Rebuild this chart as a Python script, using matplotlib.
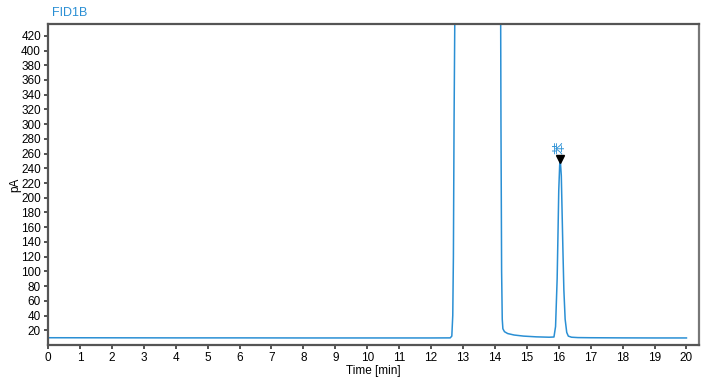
import matplotlib.pyplot as plt
import matplotlib.ticker as mticker

plt.rcParams['font.family'] = ['Liberation Sans', 'Noto Sans CJK SC', 'DejaVu Sans']

# FID1B signal (time in min, signal in pA)
time_min = [0.0, 2.0, 4.0, 6.0, 8.0, 10.0, 12.0, 12.6, 12.65, 12.68, 12.70, 12.72, 12.75, 12.78,
            14.17, 14.19, 14.21, 14.23, 14.25, 14.3, 14.4, 14.6, 14.9, 15.3, 15.7, 15.85,
            15.9, 15.95, 15.98, 16.0, 16.03, 16.05, 16.08, 16.1, 16.13, 16.16, 16.2,
            16.25, 16.3, 16.4, 16.6, 17.0, 18.0, 19.0, 20.0]
signal_pa = [9.8, 9.7, 9.6, 9.6, 9.5, 9.5, 9.5, 9.6, 12.0, 40.0, 120.0, 300.0, 480.0, 600.0,
             600.0, 300.0, 100.0, 35.0, 22.0, 18.0, 15.5, 13.5, 12.0, 11.0, 10.5, 10.8,
             25.0, 90.0, 160.0, 210.0, 245.0, 250.0, 230.0, 190.0, 130.0, 75.0, 35.0,
             17.0, 12.0, 10.5, 10.0, 9.8, 9.6, 9.5, 9.5]

peak_time = 16.05
peak_height = 252
peak_name = '苯'

blue = '#2a8fd4'

fig = plt.figure(figsize=(7.26, 3.82), dpi=100)
ax = fig.add_axes([0.0661, 0.097, 0.897, 0.840])

ax.plot(time_min, signal_pa, color=blue, lw=1.1)

# peak marker and label
ax.plot([peak_time], [peak_height], marker='v', color='black', ms=5.5, zorder=5)
ax.text(peak_time, peak_height + 7, peak_name, rotation=90, color=blue,
        ha='center', va='bottom', fontsize=9)

ax.set_xlim(0, 20.4)
ax.set_ylim(0, 436)
ax.xaxis.set_major_locator(mticker.MultipleLocator(1))
ax.set_yticks(range(20, 421, 20))

for s in ax.spines.values():
    s.set_color('#555555')
    s.set_linewidth(1.6)
ax.spines['right'].set_color('#777777')

ax.tick_params(axis='both', direction='out', length=3, width=1.2, color='#333333',
               labelsize=8.5, pad=2)
ax.set_xlabel('Time [min]', fontsize=8.5, labelpad=1)
ax.set_ylabel('pA', fontsize=8.5, labelpad=0)

fig.text(52 / 726, 1 - 13 / 382, 'FID1B', color=blue, fontsize=9, va='center', ha='left')

fig.savefig('out.png', dpi=100)
